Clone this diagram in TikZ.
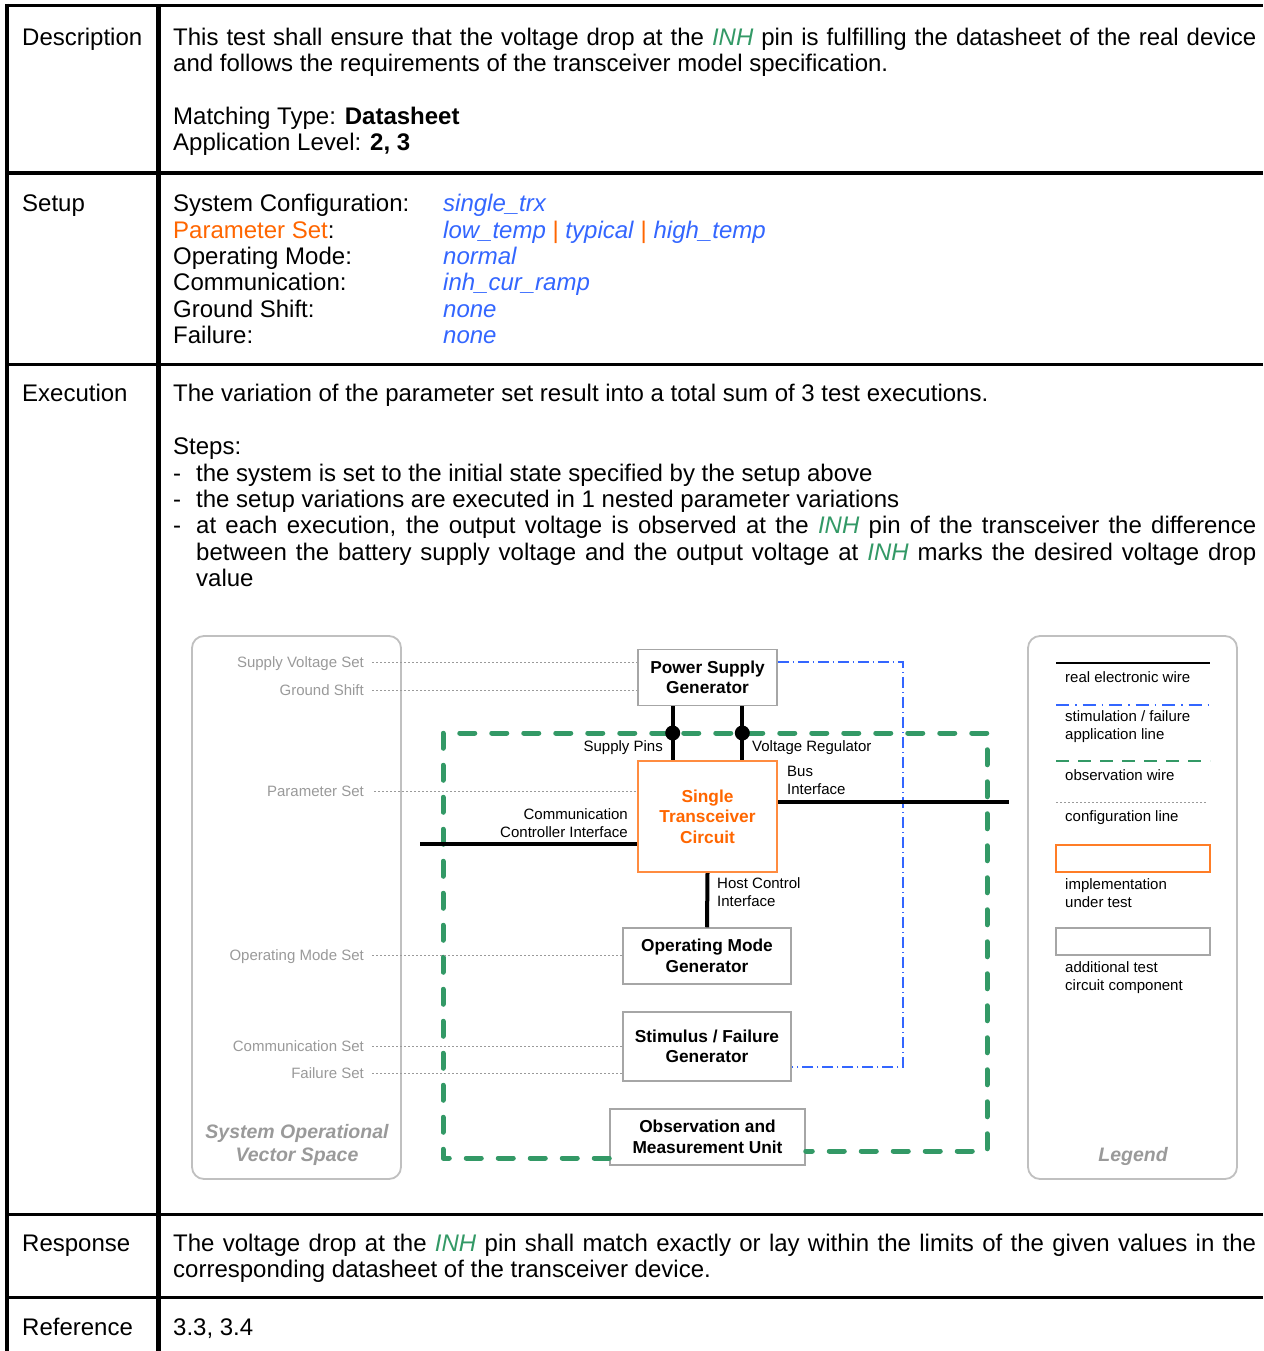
\documentclass[tikz,border=0pt]{standalone}
\usepackage{fontspec}
\setmainfont{Liberation Sans}
\usetikzlibrary{calc}
\definecolor{inhgreen}{HTML}{339966}
\definecolor{valblue}{HTML}{3366FF}
\definecolor{porange}{HTML}{FF6600}
\definecolor{lblgray}{HTML}{9A9A9A}
\definecolor{panelgray}{HTML}{C0C0C0}
\definecolor{boxgray}{HTML}{A6A6A6}
\newcommand{\inhtxt}{\textcolor{inhgreen}{\textit{INH}}}
\newcommand{\valtxt}[1]{\textcolor{valblue}{\textit{#1}}}
\newcommand{\orbar}{\textcolor{porange}{|}}
\begin{document}
\begin{tikzpicture}[x=1pt,y=-1pt,
  txt/.style={anchor=base west, inner sep=0pt, font=\fontsize{24}{26}\selectfont},
  panel/.style={draw=panelgray, line width=1.8pt, rounded corners=12pt, fill=white},
  glbl/.style={text=lblgray, font=\fontsize{15}{18}\selectfont, inner sep=0pt, text height=10.5pt, text depth=0pt},
  cfg/.style={draw=lblgray, line width=1pt, dash pattern=on 2pt off 2pt},
  box/.style={draw=boxgray, line width=1.5pt, fill=white, align=center, font=\bfseries\fontsize{17.3}{20.5}\selectfont, inner sep=0pt},
  iut/.style={box, draw=porange!75, text=porange},
  wire/.style={line width=4pt},
  obs/.style={draw=inhgreen, line width=5pt, dash pattern=on 15pt off 17pt, line cap=round, line join=round},
  stim/.style={draw=valblue, line width=1.3pt, dash pattern=on 11pt off 4pt on 1pt off 4pt},
  lbl/.style={font=\fontsize{15}{18}\selectfont, inner sep=0pt, text height=10.5pt, text depth=0pt},
  lbl2/.style={font=\fontsize{15}{18}\selectfont, inner sep=0pt},
  ttl/.style={text=lblgray, font=\bfseries\itshape\fontsize{19.5}{23}\selectfont, inner sep=0pt, align=center},
]
\useasboundingbox (0,0) rectangle (1263,1351);
\fill[white] (0,0) rectangle (1263,1351);

% table rules
\draw[line width=3.6pt] (5,5.6) -- (1263,5.6);
\draw[line width=4pt] (7,3.8) -- (7,1351);
\draw[line width=4.4pt] (158.3,3.8) -- (158.3,1351);
\draw[line width=4.3pt] (5,172.8) -- (1263,172.8);
\draw[line width=3.3pt] (5,364.3) -- (1263,364.3);
\draw[line width=3.3pt] (5,1214.3) -- (1263,1214.3);
\draw[line width=3.3pt] (5,1297.7) -- (1263,1297.7);

% left column
\node[txt] (hdesc) at (22,45.5) {Description};
\node[txt] (hsetup) at (22,211.5) {Setup};
\node[txt] (hexec) at (22,401.5) {Execution};
\node[txt] (hresp) at (22,1251.5) {Response};
\node[txt] (href) at (22,1335.5) {Reference};

% description
\node[txt] (d1) at (173,45.5) {\makebox[1083pt][s]{This test shall ensure that the voltage drop at the \inhtxt{} pin is fulfilling the datasheet of the real device}};
\node[txt] (d2) at (173,71.5) {and follows the requirements of the transceiver model specification.};
\node[txt] (d3) at (173,124.5) {Matching Type: \textbf{Datasheet}};
\node[txt] (d4) at (173,150.5) {Application Level: \textbf{2, 3}};

% setup
\node[txt] (s1) at (173,211.5) {System Configuration:};
\node[txt] (s2) at (173,238.5) {\textcolor{porange}{Parameter Set}:};
\node[txt] (s3) at (173,264.5) {Operating Mode:};
\node[txt] (s4) at (173,290.5) {Communication:};
\node[txt] (s5) at (173,317.5) {Ground Shift:};
\node[txt] (s6) at (173,343.5) {Failure:};
\node[txt] (v1) at (443,211.5) {\valtxt{single\_trx}};
\node[txt] (v2) at (443,238.5) {\valtxt{low\_temp} \orbar{} \valtxt{typical} \orbar{} \valtxt{high\_temp}};
\node[txt] (v3) at (443,264.5) {\valtxt{normal}};
\node[txt] (v4) at (443,290.5) {\valtxt{inh\_cur\_ramp}};
\node[txt] (v5) at (443,317.5) {\valtxt{none}};
\node[txt] (v6) at (443,343.5) {\valtxt{none}};

% execution
\node[txt] (e1) at (173,401.5) {The variation of the parameter set result into a total sum of 3 test executions.};
\node[txt] (e2) at (173,454.5) {Steps:};
\node[txt] (b1) at (173,481.5) {-};
\node[txt] (b2) at (173,507.5) {-};
\node[txt] (b3) at (173,533.5) {-};
\node[txt] (e3) at (196,481.5) {the system is set to the initial state specified by the setup above};
\node[txt] (e4) at (196,507.5) {the setup variations are executed in 1 nested parameter variations};
\node[txt] (e5) at (196,533.5) {\makebox[1060pt][s]{at each execution, the output voltage is observed at the \inhtxt{} pin of the transceiver the difference}};
\node[txt] (e6) at (196,560.5) {\makebox[1060pt][s]{between the battery supply voltage and the output voltage at \inhtxt{} marks the desired voltage drop}};
\node[txt] (e7) at (196,586.5) {value};

% response / reference
\node[txt] (r1) at (173,1251.5) {\makebox[1083pt][s]{The voltage drop at the \inhtxt{} pin shall match exactly or lay within the limits of the given values in the}};
\node[txt] (r2) at (173,1277.5) {corresponding datasheet of the transceiver device.};
\node[txt] (rf) at (173,1335.5) {3.3, 3.4};

% ---------- diagram ----------
\draw[panel] (192,636) rectangle (401,1179);
\draw[panel] (1028,636) rectangle (1237,1179);

\node[ttl] (sovs) at (297,1144.5) {System Operational\\Vector Space};
\node[ttl] (leg) at (1133,1156) {Legend};

% gray configuration labels
\node[glbl, anchor=east] (lsv) at (364,662) {Supply Voltage Set};
\node[glbl, anchor=east] (lgs) at (364,690) {Ground Shift};
\node[glbl, anchor=east] (lps) at (364,791) {Parameter Set};
\node[glbl, anchor=east] (lom) at (364,955) {Operating Mode Set};
\node[glbl, anchor=east] (lcs) at (364,1046) {Communication Set};
\node[glbl, anchor=east] (lfs) at (364,1073) {Failure Set};

% coordinates
\coordinate (spL) at (672.7,733);
\coordinate (spR) at (742.3,733);
\coordinate (busE) at (1009,802);
\coordinate (comW) at (420,844);
\coordinate (gBL) at (443,1158);
\coordinate (gTL) at (443,733);
\coordinate (gTR) at (987,733);
\coordinate (gBR) at (987,1151);
\coordinate (bTR) at (903,662);
\coordinate (bBR) at (903,1067);

% boxes
\node[box, minimum width=139pt, minimum height=56pt] (psg) at (707.5,677.5) {Power Supply\\Generator};
\node[iut, minimum width=139pt, minimum height=111pt] (stc) at (707.5,816.5) {Single\\Transceiver\\Circuit};
\node[box, minimum width=168pt, minimum height=56pt] (omg) at (707,956) {Operating Mode\\Generator};
\node[box, minimum width=168pt, minimum height=69pt] (sfg) at (707,1046.5) {Stimulus / Failure\\Generator};
\node[box, minimum width=195pt, minimum height=56pt] (omu) at (707.5,1137) {Observation and\\Measurement Unit};

% observation wire
\draw[obs] (omu.west |- gBL) -- (gBL) -- (gTL) -- (gTR) -- (gBR) -- (omu.east |- gBR);

% configuration lines
\draw[cfg] ([xshift=8pt]lsv.east) -- (lsv.east -| psg.west);
\draw[cfg] ([xshift=8pt]lgs.east) -- (lgs.east -| psg.west);
\draw[cfg] ([xshift=10pt]lps.east) -- (lps.east -| stc.west);
\draw[cfg] ([xshift=8pt]lom.east) -- (lom.east -| omg.west);
\draw[cfg] ([xshift=8pt]lcs.east) -- (lcs.east -| sfg.west);
\draw[cfg] ([xshift=8pt]lfs.east) -- (lfs.east -| sfg.west);

% stimulation line
\draw[stim] (psg.east |- bTR) -- (bTR) -- (bBR) -- (sfg.east |- bBR);

% real wires
\draw[wire] (psg.south -| spL) -- (stc.north -| spL);
\draw[wire] (psg.south -| spR) -- (stc.north -| spR);
\fill (spL) circle (7.5pt);
\fill (spR) circle (7.5pt);
\draw[wire] (stc.east |- busE) -- (busE);
\draw[wire] (comW) -- (comW -| stc.west);
\draw[wire] (stc.south) -- (omg.north);

% redraw boxes on top
\node[box, minimum width=139pt, minimum height=56pt] at (psg) {Power Supply\\Generator};
\node[iut, minimum width=139pt, minimum height=111pt] at (stc) {Single\\Transceiver\\Circuit};

% wire labels
\node[lbl, anchor=east] (lsp) at (663,746) {Supply Pins};
\node[lbl, anchor=west] (lvr) at (752,746) {Voltage Regulator};
\node[lbl2, anchor=north west, align=left] (lbi) at (787,766) {Bus\\Interface};
\node[lbl2, anchor=north east, align=right] (lcc) at (628,808) {Communication\\Controller Interface};
\node[lbl2, anchor=north west, align=left] (lhc) at (717,877) {Host Control\\Interface};

% legend
\draw[line width=2pt] (1056,663) -- (1210,663);
\node[lbl, anchor=west] (lg1) at (1065,677) {real electronic wire};
\draw[draw=valblue, line width=2pt, dash pattern=on 13pt off 6pt on 1.5pt off 6pt] (1056,705) -- (1210,705);
\node[lbl2, anchor=north west, align=left] (lg2) at (1065,710.5) {stimulation / failure\\application line};
\draw[draw=inhgreen, line width=2.5pt, dash pattern=on 13pt off 9pt] (1056,761) -- (1210,761);
\node[lbl, anchor=west] (lg3) at (1065,775) {observation wire};
\draw[cfg] (1056,802.5) -- (1207,802.5);
\node[lbl, anchor=west] (lg4) at (1065,816) {configuration line};
\node[draw=porange!85, line width=1.3pt, minimum width=154pt, minimum height=27pt, inner sep=0pt] (lgiut) at (1133,858.5) {};
\node[lbl2, anchor=north west, align=left] (lg5) at (1065,878.5) {implementation\\under test};
\node[draw=boxgray, line width=1.3pt, minimum width=154pt, minimum height=27pt, inner sep=0pt] (lgbox) at (1133,941.5) {};
\node[lbl2, anchor=north west, align=left] (lg6) at (1065,961.5) {additional test\\circuit component};
\end{tikzpicture}
\end{document}
